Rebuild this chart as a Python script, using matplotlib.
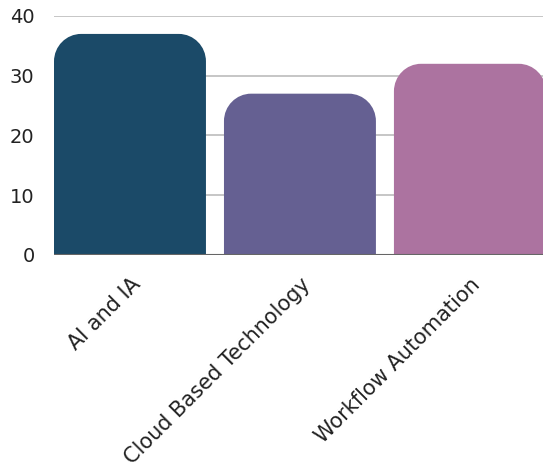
import numpy as np
import matplotlib.pyplot as plt
from matplotlib.path import Path
from matplotlib.patches import PathPatch

# --- dane ---
categories = ['AI and IA', 'Cloud Based Technology', 'Workflow Automation']
values = [37, 27, 32]
colors = ['#1b4a68', '#656092', '#ac73a0']

BAR_W = 0.894
RX = 0.16   # promien zaokraglenia w jednostkach osi x
RY = 4.6    # promien zaokraglenia w jednostkach osi y


def rounded_top_bar(x, h, w, rx, ry):
    # prostokat z zaokraglonymi gornymi rogami (krzywe Beziera)
    k = 0.5523
    x0, x1 = x - w / 2, x + w / 2
    verts = [
        (x0, 0), (x0, h - ry),
        (x0, h - ry + k * ry), (x0 + rx - k * rx, h), (x0 + rx, h),
        (x1 - rx, h),
        (x1 - rx + k * rx, h), (x1, h - ry + k * ry), (x1, h - ry),
        (x1, 0), (x0, 0),
    ]
    codes = [Path.MOVETO, Path.LINETO,
             Path.CURVE4, Path.CURVE4, Path.CURVE4,
             Path.LINETO,
             Path.CURVE4, Path.CURVE4, Path.CURVE4,
             Path.LINETO, Path.CLOSEPOLY]
    return Path(verts, codes)


plt.rcParams['font.family'] = ['DejaVu Sans']

fig = plt.figure(figsize=(5.43, 4.70), dpi=100)
ax = fig.add_axes([54 / 543, 1 - 255 / 470, 1 - 54 / 543, (255 - 16) / 470])

xs = np.arange(len(categories))
for x, v, c in zip(xs, values, colors):
    ax.add_patch(PathPatch(rounded_top_bar(x, v, BAR_W, RX, RY), facecolor=c,
                           edgecolor='none', zorder=2))

ax.set_xlim(-0.447, 2.43)
ax.set_ylim(0, 40)
ax.set_yticks([0, 10, 20, 30, 40])
ax.yaxis.grid(True, color='#c2c2c2', linewidth=1.3, zorder=0)
ax.set_axisbelow(True)
ax.axhline(0, color='#666666', linewidth=1.5, zorder=3)

for s in ax.spines.values():
    s.set_visible(False)
ax.tick_params(axis='y', length=0, labelsize=14, colors='#222222', pad=14)
ax.set_xticks(xs)
ax.set_xticklabels(categories, rotation=45, ha='right', rotation_mode='anchor',
                   fontsize=15, color='#222222')
ax.tick_params(axis='x', length=0, pad=14)

fig.savefig('out.png', dpi=100)
